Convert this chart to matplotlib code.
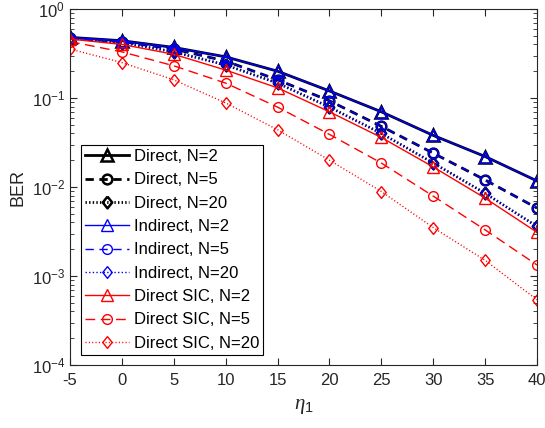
import numpy as np
import matplotlib.pyplot as plt
from matplotlib.ticker import LogLocator, NullFormatter

plt.rcParams['font.family'] = ['Liberation Sans', 'DejaVu Sans']
plt.rcParams['mathtext.fontset'] = 'custom'
plt.rcParams['mathtext.it'] = 'Liberation Serif:italic'
plt.rcParams['mathtext.rm'] = 'Liberation Sans'
plt.rcParams['axes.unicode_minus'] = False
plt.rcParams['lines.scale_dashes'] = False

eta = [-5, 0, 5, 10, 15, 20, 25, 30, 35, 40]

direct_n2 = [0.48, 0.44, 0.37, 0.29, 0.20, 0.12, 0.070, 0.038, 0.022, 0.0117]
direct_n5 = [0.47, 0.43, 0.355, 0.26, 0.16, 0.093, 0.048, 0.024, 0.012, 0.0058]
direct_n20 = [0.47, 0.42, 0.33, 0.235, 0.147, 0.079, 0.040, 0.0186, 0.0085, 0.0036]
indirect_n2 = direct_n2
indirect_n5 = direct_n5
indirect_n20 = direct_n20
sic_n2 = [0.46, 0.40, 0.31, 0.206, 0.13, 0.070, 0.036, 0.0168, 0.0075, 0.0031]
sic_n5 = [0.43, 0.33, 0.23, 0.147, 0.079, 0.039, 0.0186, 0.0079, 0.0033, 0.00133]
sic_n20 = [0.355, 0.25, 0.16, 0.088, 0.044, 0.020, 0.0089, 0.0035, 0.0015, 0.00054]

# matlab-like diamond marker
diamond = [(0, 1), (0.8, 0), (0, -1), (-0.8, 0), (0, 1)]

fig = plt.figure(figsize=(5.45, 4.28), dpi=100)
ax = fig.add_axes([70 / 545, 1 - 365 / 428, 467 / 545, 356 / 428])

dash = (6, 4)
dot = (1, 1.6)

# Direct (black, thick)
ax.plot(eta, direct_n2, 'k-', marker='^', mfc='none', mew=1.8, ms=8, lw=2, label='Direct, N=2')
ax.plot(eta, direct_n5, 'k--', dashes=dash, marker='o', mfc='none', mew=1.8, ms=7, lw=2,
        label='Direct, N=5')
ax.plot(eta, direct_n20, 'k:', dashes=dot, marker=diamond, mfc='none', mew=1.8, ms=8.5, lw=2,
        label='Direct, N=20')

# Indirect (blue, thin)
ax.plot(eta, indirect_n2, 'b-', marker='^', mfc='none', mew=1, ms=8, lw=1, label='Indirect, N=2')
ax.plot(eta, indirect_n5, 'b--', dashes=dash, marker='o', mfc='none', mew=1, ms=7, lw=1,
        label='Indirect, N=5')
ax.plot(eta, indirect_n20, 'b:', dashes=dot, marker=diamond, mfc='none', mew=1, ms=8.5, lw=1,
        label='Indirect, N=20')

# Direct SIC (red, thin)
ax.plot(eta, sic_n2, 'r-', marker='^', mfc='none', mew=1, ms=8, lw=1, label='Direct SIC, N=2')
ax.plot(eta, sic_n5, 'r--', dashes=(7, 4), marker='o', mfc='none', mew=1, ms=7, lw=1,
        label='Direct SIC, N=5')
ax.plot(eta, sic_n20, 'r:', dashes=(0.8, 1.6), marker=diamond, mfc='none', mew=1, ms=8.5, lw=1,
        label='Direct SIC, N=20')

ax.set_yscale('log')
ax.set_xlim(-5, 40)
ax.set_ylim(1e-4, 1)
ax.set_xticks(range(-5, 41, 5))
ax.yaxis.set_major_locator(LogLocator(base=10, numticks=10))
ax.yaxis.set_minor_locator(LogLocator(base=10, subs=np.arange(2, 10), numticks=10))
ax.yaxis.set_minor_formatter(NullFormatter())

axcol = '#262626'
for s in ax.spines.values():
    s.set_color(axcol)
    s.set_linewidth(0.8)
ax.tick_params(which='both', direction='in', top=True, right=True, colors=axcol, labelsize=12)
ax.tick_params(which='major', length=5)
ax.tick_params(which='minor', length=3)
ax.tick_params(axis='x', pad=6)

ax.set_xlabel(r'$\eta_1$', fontsize=15, color=axcol, labelpad=6)
ax.set_ylabel('BER', fontsize=13, color=axcol)

leg = ax.legend(loc='lower left', bbox_to_anchor=(11 / 467, 10 / 356), borderaxespad=0,
                fontsize=12, handlelength=2.6, labelspacing=0.5, handletextpad=0.3,
                fancybox=False, framealpha=1, edgecolor='k', borderpad=0.25)
leg.get_frame().set_linewidth(0.8)

fig.savefig('out.png', dpi=100)
